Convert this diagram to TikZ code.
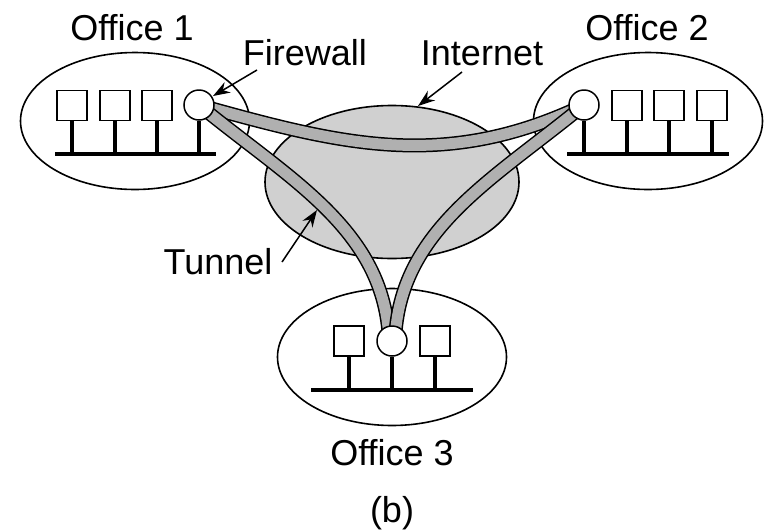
\documentclass[tikz,border=0pt]{standalone}
\usepackage{fontspec}
\setmainfont{Liberation Sans}
\usetikzlibrary{arrows.meta,backgrounds,shapes.geometric}
\definecolor{inetgray}{RGB}{208,208,208}
\definecolor{tungray}{RGB}{176,176,176}
\tikzset{
  office/.style={draw=black,line width=1.6pt,fill=white,ellipse,minimum width=229pt,minimum height=137pt,inner sep=0pt},
  internet/.style={draw=black,line width=1.6pt,fill=inetgray,ellipse,minimum width=254pt,minimum height=153pt,inner sep=0pt},
  hostbox/.style={draw=black,line width=1.5pt,fill=white,minimum size=30pt,inner sep=0pt},
  fw/.style={draw=black,line width=1.5pt,fill=white,circle,minimum size=30pt,inner sep=0pt},
  wire/.style={line width=3.8pt,black},
  tunouter/.style={line width=14pt,black},
  tuninner/.style={line width=11pt,tungray},
  lab/.style={font=\fontsize{36}{40}\selectfont,text=black,inner sep=0pt},
  pointer/.style={line width=1.5pt,-{Stealth[length=17pt,width=12pt]}}
}
\begin{document}
\begin{tikzpicture}[x=1pt,y=-1pt]
\useasboundingbox (0,0) rectangle (765,531);
% Firewalls and hosts
\node[fw] (f1) at (199,105) {};
\node[fw] (f2) at (584,105) {};
\node[fw] (f3) at (392,341) {};
\node[hostbox] (a1) at (72,105.5) {};
\node[hostbox] (a2) at (115,105.5) {};
\node[hostbox] (a3) at (157,105.5) {};
\node[hostbox] (b1) at (627,105.5) {};
\node[hostbox] (b2) at (669,105.5) {};
\node[hostbox] (b3) at (712,105.5) {};
\node[hostbox] (c1) at (349,341) {};
\node[hostbox] (c2) at (435,341) {};
% Bus ends
\coordinate (busAl) at (55,154);
\coordinate (busAr) at (216,154);
\coordinate (busBl) at (567,154);
\coordinate (busBr) at (729,154);
\coordinate (busCl) at (311,390);
\coordinate (busCr) at (473,390);
\begin{pgfonlayer}{background}
\node[office] (o1) at (135,121) {};
\node[office] (o2) at (648,121) {};
\node[office] (o3) at (392,357) {};
\node[internet] (net) at (392,182) {};
% Tunnels
\foreach \st in {tunouter,tuninner}{
  \draw[\st] (f1.center) .. controls (340,144) and (443,172) .. (f2.center);
}
\foreach \st in {tunouter,tuninner}{
  \draw[\st] (f1.center) .. controls (290,180) and (385,230) .. ([xshift=-3pt]f3.center);
}
\foreach \st in {tunouter,tuninner}{
  \draw[\st] (f2.center) .. controls (493,180) and (399,230) .. ([xshift=3pt]f3.center);
}
\end{pgfonlayer}
% Buses and stems
\draw[wire] (busAl) -- (busAr);
\draw[wire] (busBl) -- (busBr);
\draw[wire] (busCl) -- (busCr);
\foreach \n in {a1,a2,a3,f1}{\draw[wire] (\n.south) -- (\n.south |- busAl);}
\foreach \n in {f2,b1,b2,b3}{\draw[wire] (\n.south) -- (\n.south |- busBl);}
\foreach \n in {c1,f3,c2}{\draw[wire] (\n.south) -- (\n.south |- busCl);}
% Labels
\node[lab] (lo1) at (132,28) {Office 1};
\node[lab] (lfw) at (305,53) {Firewall};
\node[lab] (lin) at (482,53) {Internet};
\node[lab] (lo2) at (647,28) {Office 2};
\node[lab] (ltu) at (218,262) {Tunnel};
\node[lab] (lo3) at (392,453) {Office 3};
\node[lab] (lb) at (392,513) {(b)};
% Pointers
\coordinate (pfw) at (257,70);
\coordinate (pin) at (462,72);
\coordinate (ptu) at (282,262);
\coordinate (tfw) at (213,96);
\coordinate (tin) at (418,106);
\coordinate (ttu) at (317,210);
\draw[pointer] (pfw) -- (tfw);
\draw[pointer] (pin) -- (tin);
\draw[pointer] (ptu) -- (ttu);
\end{tikzpicture}
\end{document}
